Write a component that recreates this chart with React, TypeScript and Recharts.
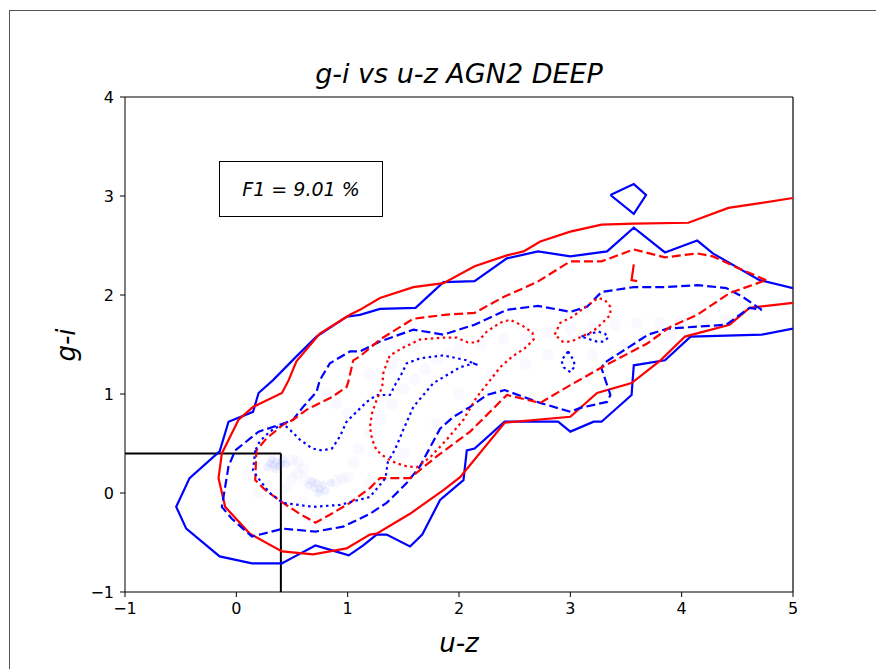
import { ScatterChart, Scatter, XAxis, YAxis, ReferenceLine } from "recharts";

// contour paths (u-z, g-i)
const blueSolid: [number, number][] = [
  [5.0, 2.07], [4.7, 2.15], [4.28, 2.42], [4.14, 2.55], [3.85, 2.43], [3.57, 2.68], [3.33, 2.44], [3.0, 2.39],
  [2.71, 2.44], [2.43, 2.37], [2.14, 2.14], [1.86, 2.13], [1.61, 1.87], [1.29, 1.86], [1.11, 1.8], [0.99, 1.78],
  [0.72, 1.58], [0.54, 1.38], [0.33, 1.14], [0.2, 1.01], [0.15, 0.82], [-0.07, 0.72], [-0.15, 0.42], [-0.42, 0.15],
  [-0.54, -0.14], [-0.45, -0.36], [-0.15, -0.64], [0.14, -0.71], [0.41, -0.71], [0.51, -0.65], [0.71, -0.53],
  [0.86, -0.58], [1.01, -0.63], [1.14, -0.53], [1.26, -0.42], [1.35, -0.42], [1.56, -0.54], [1.67, -0.42],
  [1.83, -0.07], [2.04, 0.13], [2.07, 0.43], [2.14, 0.45], [2.41, 0.72], [2.89, 0.72], [3.0, 0.62], [3.21, 0.72],
  [3.28, 0.72], [3.55, 0.99], [3.57, 1.29], [3.85, 1.34], [4.08, 1.58], [4.72, 1.6], [5.0, 1.66],
];
const blueIsland: [number, number][] = [[3.36, 3.01], [3.57, 3.12], [3.68, 3.01], [3.57, 2.82]];

const redSolid: [number, number][] = [
  [5.0, 2.98], [4.72, 2.93], [4.42, 2.88], [4.06, 2.73], [3.57, 2.72], [3.28, 2.71], [3.0, 2.64], [2.73, 2.54],
  [2.58, 2.44], [2.43, 2.4], [2.14, 2.29], [1.86, 2.12], [1.59, 2.08], [1.29, 1.97], [1.11, 1.85], [1.02, 1.8],
  [0.75, 1.61], [0.54, 1.33], [0.47, 1.14], [0.41, 1.01], [0.15, 0.87], [0.02, 0.74], [-0.13, 0.4], [-0.16, 0.15],
  [-0.1, -0.14], [0.12, -0.41], [0.41, -0.59], [0.69, -0.62], [0.99, -0.56], [1.2, -0.42], [1.26, -0.41],
  [1.56, -0.21], [1.86, 0.03], [2.01, 0.16], [2.41, 0.71], [3.0, 0.77], [3.24, 1.01], [3.55, 1.11], [3.81, 1.34],
  [4.03, 1.58], [4.43, 1.7], [4.61, 1.87], [5.0, 1.92],
];

const blueDashed: [number, number][] = [
  [4.72, 1.85], [4.55, 1.98], [4.4, 2.07], [4.14, 2.1], [3.85, 2.08], [3.57, 2.08], [3.28, 2.03], [3.15, 1.88],
  [3.0, 1.83], [2.71, 1.89], [2.43, 1.85], [2.14, 1.7], [1.86, 1.6], [1.59, 1.65], [1.29, 1.53], [1.11, 1.43],
  [1.02, 1.43], [0.84, 1.31], [0.75, 1.14], [0.72, 1.02], [0.6, 0.87], [0.51, 0.74], [0.42, 0.7], [0.2, 0.62],
  [-0.01, 0.43], [-0.07, 0.27], [-0.13, -0.14], [-0.04, -0.26], [0.14, -0.44], [0.42, -0.36], [0.71, -0.39],
  [0.96, -0.34], [1.2, -0.21], [1.35, -0.1], [1.53, 0.1], [1.65, 0.27], [1.83, 0.65], [1.95, 0.77], [2.1, 0.87],
  [2.25, 0.99], [2.41, 1.04], [2.58, 0.97], [2.73, 0.91], [3.0, 0.82], [3.09, 0.86], [3.33, 0.92], [3.36, 0.99],
  [3.28, 1.26], [3.3, 1.31], [3.7, 1.6], [3.87, 1.66], [4.4, 1.7], [4.61, 1.87],
];

const redDashed: [number, number][] = [
  [4.76, 2.15], [4.55, 2.25], [4.28, 2.39], [4.14, 2.42], [3.85, 2.38], [3.57, 2.46], [3.28, 2.34], [3.0, 2.34],
  [2.7, 2.13], [2.4, 1.98], [2.14, 1.82], [1.87, 1.8], [1.59, 1.76], [1.29, 1.55], [1.11, 1.38], [1.05, 1.34],
  [1.01, 1.14], [0.99, 1.07], [0.86, 0.97], [0.63, 0.84], [0.51, 0.74], [0.42, 0.69], [0.27, 0.55], [0.18, 0.43],
  [0.17, 0.13], [0.26, 0.03], [0.42, -0.1], [0.57, -0.21], [0.71, -0.3], [0.84, -0.22], [1.02, -0.1], [1.2, 0.05],
  [1.29, 0.15], [1.56, 0.15], [1.8, 0.37], [2.1, 0.62], [2.43, 0.99], [2.73, 0.91], [3.0, 1.09], [3.3, 1.28],
  [3.69, 1.51], [3.9, 1.68], [4.14, 1.8], [4.43, 2.02],
];
const redDashedBit: [number, number][] = [[3.57, 2.31], [3.55, 2.15], [3.6, 2.14]];

const blueDotted: [number, number][] = [
  [0.17, 0.43], [0.15, 0.23], [0.19, 0.16], [0.3, 0.0], [0.42, -0.1], [0.69, -0.14], [0.93, -0.12], [1.2, -0.04],
  [1.34, 0.15], [1.36, 0.31], [1.43, 0.45], [1.5, 0.64], [1.59, 0.87], [1.77, 1.11], [2.01, 1.27], [2.13, 1.31],
  [2.17, 1.29], [2.07, 1.34], [1.86, 1.39], [1.65, 1.36], [1.53, 1.31], [1.47, 1.17], [1.43, 1.1], [1.38, 0.99],
  [1.26, 0.99], [1.17, 0.92], [1.08, 0.82], [0.99, 0.72], [0.93, 0.57], [0.86, 0.45], [0.77, 0.43], [0.68, 0.45],
  [0.57, 0.54], [0.48, 0.64], [0.42, 0.7], [0.3, 0.62], [0.21, 0.52],
];
const blueDottedA: [number, number][] = [[2.98, 1.43], [3.03, 1.34], [3.04, 1.28], [3.0, 1.22], [2.94, 1.27], [2.92, 1.34]];
const blueDottedB: [number, number][] = [
  [3.1, 1.58], [3.18, 1.61], [3.25, 1.63], [3.31, 1.61], [3.34, 1.57], [3.3, 1.53], [3.24, 1.53], [3.18, 1.55],
];

const redDotted: [number, number][] = [
  [1.36, 1.34], [1.32, 1.21], [1.31, 1.07], [1.26, 0.94], [1.22, 0.81], [1.2, 0.67], [1.22, 0.54], [1.26, 0.43],
  [1.35, 0.35], [1.44, 0.3], [1.53, 0.27], [1.62, 0.26], [1.74, 0.36], [1.89, 0.54], [2.04, 0.74], [2.16, 0.97],
  [2.28, 1.14], [2.37, 1.27], [2.48, 1.38], [2.59, 1.46], [2.67, 1.55], [2.66, 1.62], [2.57, 1.69], [2.46, 1.75],
  [2.37, 1.72], [2.25, 1.63], [2.16, 1.52], [2.08, 1.52], [1.98, 1.57], [1.86, 1.57], [1.65, 1.55], [1.5, 1.47],
  [1.38, 1.39],
];
const redDottedB: [number, number][] = [
  [2.86, 1.6], [2.91, 1.72], [3.02, 1.78], [3.1, 1.85], [3.25, 1.97], [3.31, 1.95], [3.36, 1.88], [3.36, 1.8],
  [3.29, 1.72], [3.2, 1.63], [3.1, 1.58], [3.01, 1.53], [2.93, 1.53],
];

// faint background sample: two dense knots plus the diffuse ridge
const densityKnots: [number, number][] = [
  [0.3, 0.3], [0.33, 0.28], [0.36, 0.32], [0.38, 0.27], [0.4, 0.3], [0.35, 0.24], [0.42, 0.34], [0.32, 0.34],
  [0.28, 0.26], [0.45, 0.29], [0.65, 0.08], [0.7, 0.05], [0.72, 0.1], [0.75, 0.04], [0.78, 0.08], [0.68, 0.12],
  [0.8, 0.02], [0.85, 0.1], [0.74, 0.0],
];
const densityHaze: [number, number][] = [
  [0.5, 0.33], [0.55, 0.32], [0.62, 0.14], [0.9, 0.12], [0.95, 0.15], [1.0, 0.16], [0.55, 0.2], [0.6, 0.25],
  [0.5, 0.15], [0.45, 0.05], [1.05, 0.3], [1.1, 0.45], [1.2, 0.6], [1.3, 0.75], [1.4, 0.9], [1.5, 1.05],
  [1.6, 1.15], [1.7, 1.25], [1.8, 1.35], [1.9, 1.4], [2.0, 1.45], [2.2, 1.5], [2.4, 1.55], [2.6, 1.58],
  [2.8, 1.62], [3.0, 1.65], [3.2, 1.68], [3.4, 1.7], [3.6, 1.72], [3.8, 1.72], [4.0, 1.73], [4.2, 1.74],
  [1.0, 0.8], [0.9, 0.9], [0.8, 1.0], [1.2, 1.2], [1.4, 1.3], [1.6, 1.5], [2.0, 1.0], [2.3, 1.2], [2.6, 1.3],
  [2.8, 1.4], [3.2, 1.4], [3.5, 1.5], [3.9, 1.6], [4.4, 1.75], [0.2, 0.0], [0.1, 0.2], [0.6, -0.1], [1.2, 0.1],
  [1.5, 0.4], [1.8, 0.7],
];

const xTicks = [-1, 0, 1, 2, 3, 4, 5];
const yTicks = [-1, 0, 1, 2, 3, 4];

const BLUE = "#0000ff";
const RED = "#ff0000";
const DASHED = "9 4";
const DOTTED = "2.5 3.5";

const toPts = (a: [number, number][], closed: boolean) => {
  const p = a.map(([x, y]) => ({ x, y }));
  return closed ? [...p, p[0]] : p;
};

const contours = [
  { id: "bs", data: toPts(blueSolid, false), color: BLUE, dash: undefined },
  { id: "bi", data: toPts(blueIsland, true), color: BLUE, dash: undefined },
  { id: "rs", data: toPts(redSolid, false), color: RED, dash: undefined },
  { id: "bd", data: toPts(blueDashed, true), color: BLUE, dash: DASHED },
  { id: "rd", data: toPts(redDashed, true), color: RED, dash: DASHED },
  // too short to show a gap, so it reads as a solid hook
  { id: "rdb", data: toPts(redDashedBit, false), color: RED, dash: undefined },
  { id: "bo", data: toPts(blueDotted, true), color: BLUE, dash: DOTTED },
  { id: "boa", data: toPts(blueDottedA, true), color: BLUE, dash: DOTTED },
  { id: "bob", data: toPts(blueDottedB, true), color: BLUE, dash: DOTTED },
  { id: "ro", data: toPts(redDotted, true), color: RED, dash: DOTTED },
  { id: "rob", data: toPts(redDottedB, true), color: RED, dash: DOTTED },
];

const fmt = (v: number) => (v < 0 ? `\u2212${Math.abs(v)}` : `${v}`);
const font = "'DejaVu Sans', sans-serif";
const tick = { fontSize: 16, fill: "#000", fontFamily: font };

const App = () => {
  return (
    <div style={{ position: "fixed", left: 0, top: 0, width: 876, height: 669, background: "#fff", overflow: "hidden" }}>
      <div style={{ position: "absolute", left: 9, top: 10, width: 900, height: 700, border: "1px solid #555" }} />
      <div style={{ position: "absolute", left: 0, top: 0 }}>
        <ScatterChart width={876} height={669} margin={{ top: 97, right: 83, bottom: 47, left: 65 }}>
          <XAxis
            type="number"
            dataKey="x"
            domain={[-1, 5]}
            ticks={xTicks}
            tickFormatter={fmt}
            allowDataOverflow
            height={30}
            tick={tick}
            tickSize={5}
            tickMargin={6}
            stroke="#000"
          />
          <YAxis
            type="number"
            dataKey="y"
            domain={[-1, 4]}
            ticks={yTicks}
            tickFormatter={fmt}
            allowDataOverflow
            width={60}
            tick={tick}
            tickSize={5}
            tickMargin={6}
            stroke="#000"
          />
          <Scatter
            data={toPts(densityHaze, false)}
            isAnimationActive={false}
            shape={(p: any) => <circle cx={p.cx} cy={p.cy} r={6} fill="#4a5cff" fillOpacity={0.035} />}
          />
          <Scatter
            data={toPts(densityKnots, false)}
            isAnimationActive={false}
            shape={(p: any) => <circle cx={p.cx} cy={p.cy} r={4} fill="#3a4dff" fillOpacity={0.08} />}
          />
          {contours.map((c) => (
            <Scatter
              key={c.id}
              data={c.data}
              isAnimationActive={false}
              fill={c.color}
              line={{ stroke: c.color, strokeWidth: 2.2, strokeDasharray: c.dash, fill: "none" }}
              lineType="joint"
              shape={() => <g />}
            />
          ))}
          <ReferenceLine y={4} stroke="#000" strokeWidth={1.2} />
          <ReferenceLine x={5} stroke="#000" strokeWidth={1.2} />
          <ReferenceLine segment={[{ x: -1, y: 0.4 }, { x: 0.4, y: 0.4 }]} stroke="#000" strokeWidth={2} />
          <ReferenceLine segment={[{ x: 0.4, y: 0.4 }, { x: 0.4, y: -1 }]} stroke="#000" strokeWidth={2} />
        </ScatterChart>
      </div>
      <div style={{ position: "absolute", left: 0, width: 918, top: 58, textAlign: "center", fontFamily: font, fontStyle: "italic", fontSize: 27, lineHeight: "32px" }}>
        g-i vs u-z AGN2 DEEP
      </div>
      <div style={{ position: "absolute", left: 0, width: 918, top: 627, textAlign: "center", fontFamily: font, fontStyle: "italic", fontSize: 26, lineHeight: "32px" }}>
        u-z
      </div>
      <div style={{ position: "absolute", left: 66 - 50, top: 345 - 16, width: 100, height: 32, textAlign: "center", fontFamily: font, fontStyle: "italic", fontSize: 26, lineHeight: "32px", transform: "rotate(-90deg)" }}>
        g-i
      </div>
      <div style={{ position: "absolute", left: 219, top: 161, width: 162, height: 54, border: "1.5px solid #000", background: "#fff", display: "flex", alignItems: "center", justifyContent: "center", fontFamily: font, fontStyle: "italic", fontSize: 19 }}>
        F1 = 9.01 %
      </div>
    </div>
  );
};

export default App;
